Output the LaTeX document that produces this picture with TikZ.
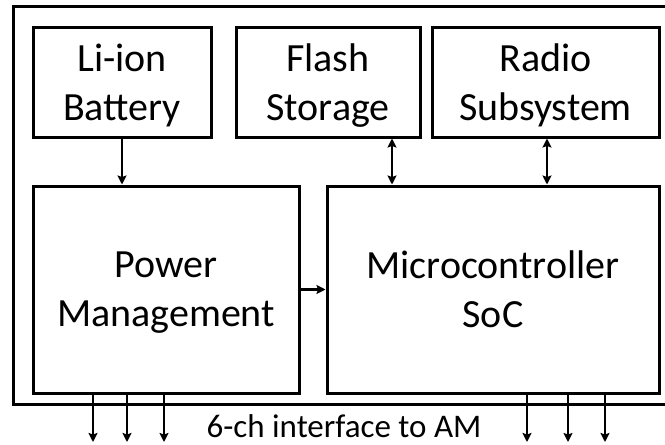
\documentclass[tikz,border=0pt]{standalone}
\usepackage{fontspec}
\setmainfont{Carlito}
\usetikzlibrary{arrows.meta}
\newcommand{\nodesc}[1]{\raisebox{0pt}[\height][0pt]{#1}}
\begin{document}
\begin{tikzpicture}[x=1pt,y=-1pt,
  >={Stealth[length=9pt,width=9pt,inset=1.5pt]},
  blk/.style={draw, line width=3pt, align=center, inner sep=0pt,
    font=\fontsize{40}{49}\selectfont},
  frame/.style={draw, line width=3pt, inner sep=0pt},
  conn/.style={line width=2.6pt}]
\useasboundingbox (0,0) rectangle (665,445);
\node[frame, minimum width=660pt, minimum height=398pt] (outer) at (343,205) {};
\node[blk, minimum width=178pt, minimum height=110pt] (bat) at (122,82) {Li-ion\\\nodesc{Battery}};
\node[blk, minimum width=184pt, minimum height=110pt] (flash) at (328,82) {Flash\\\nodesc{Storage}};
\node[blk, minimum width=227pt, minimum height=110pt] (radio) at (545.5,82) {Radio\\\nodesc{Subsystem}};
\node[blk, minimum width=266pt, minimum height=207pt] (pm) at (166,289.5) {Power\\\nodesc{Management}};
\node[blk, minimum width=332pt, minimum height=207pt] (mcu) at (493,289.5) {Microcontroller\\SoC};
\node[font=\fontsize{33}{40}\selectfont, anchor=base, inner sep=0pt] (lbl) at (344,437) {6-ch interface to AM};
\coordinate (fx) at (392,0);
\coordinate (rx) at (547,0);
\draw[conn,->] (bat.south) -- (bat.south |- pm.north);
\draw[conn,<->] (flash.south -| fx) -- (mcu.north -| fx);
\draw[conn,<->] (radio.south -| rx) -- (mcu.north -| rx);
\draw[conn,->] (pm.east) -- (mcu.west);
\foreach \n/\x in {c1/93,c2/127,c3/164} {
  \coordinate (\n) at (\x,442);
  \draw[conn,->] (pm.south -| \n) -- (\n);
}
\foreach \n/\x in {c4/527,c5/568,c6/605} {
  \coordinate (\n) at (\x,442);
  \draw[conn,->] (mcu.south -| \n) -- (\n);
}
\end{tikzpicture}
\end{document}
